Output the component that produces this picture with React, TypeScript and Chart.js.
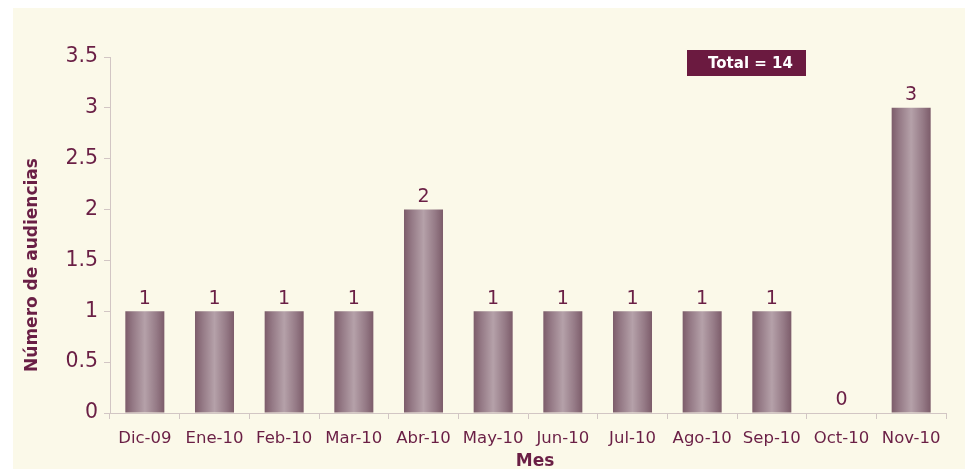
import React, { useEffect, useRef } from "react";
import { Chart, registerables } from "chart.js";

Chart.register(...registerables);

const months = ["Dic-09", "Ene-10", "Feb-10", "Mar-10", "Abr-10", "May-10", "Jun-10", "Jul-10", "Ago-10", "Sep-10", "Oct-10", "Nov-10"];
const audiencias = [1, 1, 1, 1, 2, 1, 1, 1, 1, 1, 0, 3];
const totalLabel = "Total = 14";
const yTitle = "Número de audiencias";
const xTitle = "Mes";

const MAROON = "#6a1f45";
const FONT = "'DejaVu Sans', Verdana, sans-serif";
const BAR_FRAC = 0.56;

const overlayPlugin = {
  id: "overlay",
  afterDatasetsDraw(chart: any) {
    const { ctx, chartArea } = chart;
    const meta = chart.getDatasetMeta(0);
    ctx.save();
    ctx.fillStyle = MAROON;
    ctx.font = `19px ${FONT}`;
    ctx.textAlign = "center";
    ctx.textBaseline = "bottom";
    meta.data.forEach((el: any, i: number) => {
      ctx.fillText(String(audiencias[i]), el.x, el.y - 3);
    });
    // Total box
    const bw = 119, bh = 26;
    const bx = chartArea.right - 259;
    const by = chartArea.top - 7;
    ctx.fillStyle = "#6b1a40";
    ctx.fillRect(bx, by, bw, bh);
    ctx.fillStyle = "#ffffff";
    ctx.font = `bold 15px ${FONT}`;
    ctx.textBaseline = "middle";
    ctx.fillText(totalLabel, bx + bw / 2 + 4, by + bh / 2 + 1);
    // axis titles
    ctx.fillStyle = MAROON;
    ctx.font = `bold 17px ${FONT}`;
    ctx.fillText(xTitle, (chartArea.left + chartArea.right) / 2 + 7, chartArea.bottom + 49);
    ctx.translate(20, (chartArea.top + chartArea.bottom) / 2 + 30);
    ctx.rotate(-Math.PI / 2);
    ctx.fillText(yTitle, 0, 0);
    ctx.restore();
  },
};

function barGradient(c: any) {
  const chart = c.chart;
  const xs = chart.scales.x;
  if (!xs || c.dataIndex === undefined) return "#9a8290";
  const cx = xs.getPixelForValue(c.dataIndex);
  const w = (xs.width / months.length) * BAR_FRAC;
  if (!isFinite(cx) || !isFinite(w) || w <= 0) return "#9a8290";
  const g = chart.ctx.createLinearGradient(cx - w / 2, 0, cx + w / 2, 0);
  g.addColorStop(0, "#7c5c6a");
  g.addColorStop(0.2, "#957a86");
  g.addColorStop(0.5, "#b5a1a9");
  g.addColorStop(0.8, "#957a86");
  g.addColorStop(1, "#7c5c6a");
  return g;
}

export default function App() {
  const ref = useRef<HTMLCanvasElement>(null);
  useEffect(() => {
    if (!ref.current) return;
    const chart = new Chart(ref.current, {
      type: "bar",
      data: {
        labels: months,
        datasets: [
          {
            data: audiencias,
            backgroundColor: barGradient as any,
            borderWidth: 0,
            categoryPercentage: 1,
            barPercentage: BAR_FRAC,
          },
        ],
      },
      options: {
        responsive: false,
        animation: false,
        layout: { padding: { left: 0, top: 49, right: 19, bottom: 0 } },
        plugins: { legend: { display: false }, tooltip: { enabled: false } },
        scales: {
          x: {
            grid: { drawOnChartArea: false, drawTicks: true, tickLength: 6, color: "#d2c6c4", offset: true },
            border: { color: "#d2c6c4", width: 1 },
            ticks: { color: MAROON, font: { family: FONT, size: 16.5 }, padding: 10, maxRotation: 0, autoSkip: false },
            afterFit: (s: any) => { s.height = 56; },
          },
          y: {
            min: 0,
            max: 3.5,
            grid: { drawOnChartArea: false, drawTicks: true, tickLength: 6, color: "#d2c6c4" },
            border: { color: "#d2c6c4", width: 1 },
            ticks: {
              stepSize: 0.5,
              color: MAROON,
              font: { family: FONT, size: 20.5 },
              padding: 6,
              callback: (v: any) => String(Number(v)),
            },
            afterFit: (s: any) => { s.width = 97; },
          },
        },
      },
      plugins: [overlayPlugin],
    });
    return () => chart.destroy();
  }, []);
  return (
    <div style={{ position: "fixed", left: 13, top: 8, width: 952, height: 461, background: "#fbf9e9" }}>
      <canvas ref={ref} width={952} height={461} style={{ display: "block" }} />
    </div>
  );
}
